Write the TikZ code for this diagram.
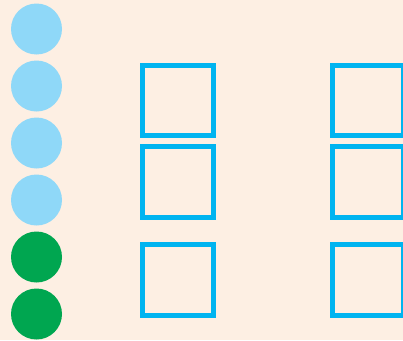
\documentclass[tikz,border=0pt]{standalone}
\definecolor{bgpeach}{HTML}{FDEFE3}
\definecolor{lightdot}{HTML}{8FD8F8}
\definecolor{greendot}{HTML}{00A650}
\definecolor{boxblue}{HTML}{00B4F0}
\begin{document}
\begin{tikzpicture}[x=1pt,y=-1pt,
  dot/.style={circle,minimum size=51pt,inner sep=0pt,draw=none},
  lightball/.style={dot,fill=lightdot},
  greenball/.style={dot,fill=greendot},
  emptybox/.style={rectangle,minimum size=70.5pt,inner sep=0pt,draw=boxblue,line width=5pt}]
\useasboundingbox (0,0) rectangle (403,340);
\clip (0,0) rectangle (403,340);
\fill[bgpeach] (0,0) rectangle (403,340);
\node[lightball] (c1) at (36.5,29) {};
\node[lightball] (c2) at (36.5,86) {};
\node[lightball] (c3) at (36.5,143) {};
\node[lightball] (c4) at (36.5,200) {};
\node[greenball] (g1) at (36.5,257) {};
\node[greenball] (g2) at (36.5,314) {};
\node[emptybox] (l1) at (178,100.7) {};
\node[emptybox] (l2) at (178,182.2) {};
\node[emptybox] (l3) at (178,280) {};
\node[emptybox] (r1) at (368,100.7) {};
\node[emptybox] (r2) at (368,182.2) {};
\node[emptybox] (r3) at (368,280) {};
\end{tikzpicture}
\end{document}
